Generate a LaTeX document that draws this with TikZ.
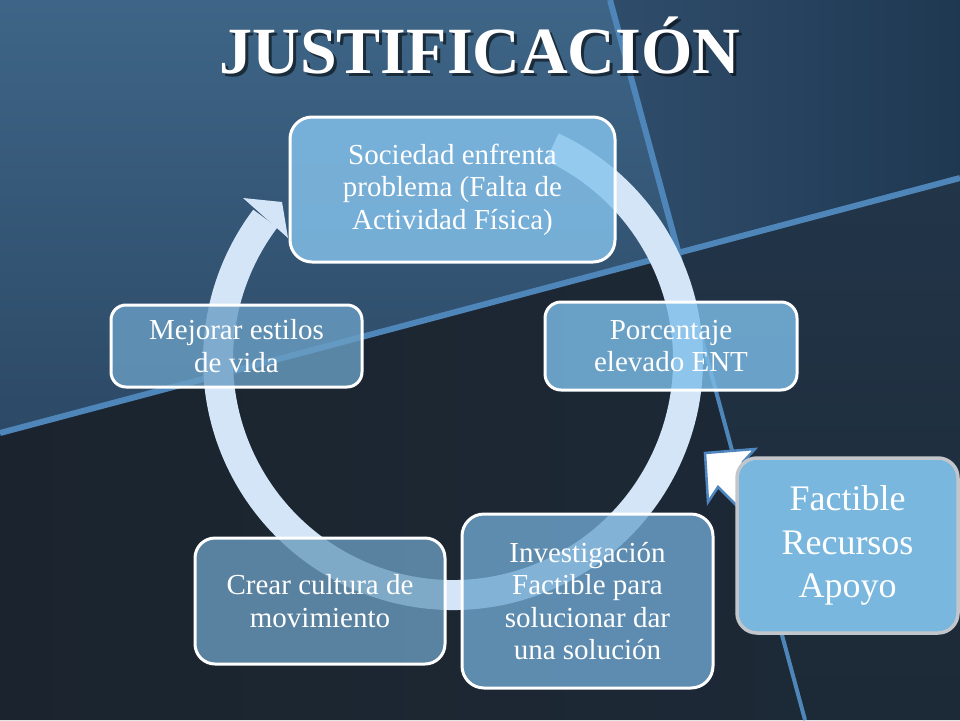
\documentclass[tikz,border=0pt]{standalone}
\usepackage{fontspec}
\setmainfont{Liberation Serif}
\usetikzlibrary{arrows.meta,calc}
\definecolor{bgll}{HTML}{1B242E}
\definecolor{bglr1}{HTML}{223549}
\definecolor{bglr2}{HTML}{1C2936}
\definecolor{bgul1}{HTML}{3E6587}
\definecolor{bgul2}{HTML}{2C4966}
\definecolor{bgur1}{HTML}{2F4D6B}
\definecolor{bgur2}{HTML}{1F3852}
\definecolor{lineblue}{HTML}{4F86B9}
\definecolor{ringc}{HTML}{D3E5F6}
\definecolor{boxa}{HTML}{86C4EE}
\definecolor{boxb}{HTML}{7DBEEA}
\definecolor{boxc}{HTML}{6EA6CF}
\definecolor{boxd}{HTML}{699ABC}
\definecolor{boxe}{HTML}{6A9EC4}
\definecolor{factfill}{HTML}{7AB7DE}
\definecolor{factborder}{HTML}{C2C6CA}
\definecolor{calloutedge}{HTML}{4F86C0}
\begin{document}
\begin{tikzpicture}[x=1pt,y=-1pt,
  stepbox/.style={draw=white, line width=3pt, fill opacity=0.8, text opacity=1,
    text=white, align=center, inner sep=4pt,
    font=\fontsize{29}{32.5}\selectfont},
  factbox/.style={draw=factborder, line width=3.5pt, fill=factfill, text=white,
    align=center, rounded corners=20pt,
    font=\fontsize{36}{43.5}\selectfont}]
\useasboundingbox (0,0) rectangle (960,720);
% background panes
\coordinate (X) at (678.5,252.8);
\coordinate (AL) at (0,433);
\coordinate (AR) at (960,178);
\coordinate (BT) at (610,0);
\coordinate (BB) at (805,720);
\fill[bgll] (0,0) rectangle (960,720);
\shade[left color=bgll, right color=bglr2] (AL) -- (X) -- (BB) -- (0,720) -- cycle;
\shade[top color=bglr1, bottom color=bglr2] (X) -- (AR) -- (960,720) -- (BB) -- cycle;
\shade[top color=bgul1, bottom color=bgul2] (0,0) -- (BT) -- (X) -- (AL) -- cycle;
\shade[left color=bgur1, right color=bgur2] (BT) -- (960,0) -- (AR) -- (X) -- cycle;
\draw[lineblue, line width=6pt] (AL) -- (AR);
\draw[lineblue, line width=6pt] (BT) -- (X);
\draw[lineblue, line width=4pt] (X) -- (BB);
% cycle ring
\coordinate (C) at (453,360);
\draw[ringc, line width=30pt] ($(C)+(-65:235)$) arc[start angle=-65, end angle=217, radius=235];
\coordinate (h1) at (243,198);
\coordinate (h2) at (282,202);
\coordinate (h3) at (288,238);
\fill[ringc] (h1) -- (h2) -- (h3) -- cycle;
% boxes
\node[stepbox, fill=boxa, rounded corners=22pt, minimum width=325pt, minimum height=145pt]
  (s1) at (452.5,189.5) {Sociedad enfrenta\\problema (Falta de\\Actividad Física)};
\node[stepbox, fill=boxb, rounded corners=16pt, minimum width=252pt, minimum height=88pt]
  (s2) at (671,346) {Porcentaje\\elevado ENT};
\node[stepbox, fill=boxc, rounded corners=22pt, minimum width=251pt, minimum height=174pt]
  (s3) at (587.5,601) {Investigación\\Factible para\\solucionar dar\\una solución};
\node[stepbox, fill=boxd, rounded corners=20pt, minimum width=250pt, minimum height=126pt]
  (s4) at (320,601) {Crear cultura de\\movimiento};
\node[stepbox, fill=boxe, rounded corners=15pt, minimum width=251pt, minimum height=82pt]
  (s5) at (236.5,346) {Mejorar estilos\\de vida};
% callout arrow
\coordinate (t0) at (705,453);
\coordinate (t1) at (755,449);
\coordinate (t2) at (743,462);
\coordinate (t3) at (780,499);
\coordinate (t4) at (755,524);
\coordinate (t5) at (718,487);
\coordinate (t6) at (708,502);
\filldraw[fill=white, draw=calloutedge, line width=2.5pt, line join=miter]
  (t0) -- (t1) -- (t2) -- (t3) -- (t4) -- (t5) -- (t6) -- cycle;
\node[factbox, minimum width=221pt, minimum height=175pt] (f) at (847.5,545.5)
  {Factible\\Recursos\\Apoyo};
% title
\node[anchor=base, text=black, opacity=0.55, font=\fontsize{66}{70}\bfseries\selectfont]
  (tsh) at (483,76) {JUSTIFICACIÓN};
\node[anchor=base, text=white, font=\fontsize{66}{70}\bfseries\selectfont]
  (title) at (480,73) {JUSTIFICACIÓN};
\end{tikzpicture}
\end{document}
